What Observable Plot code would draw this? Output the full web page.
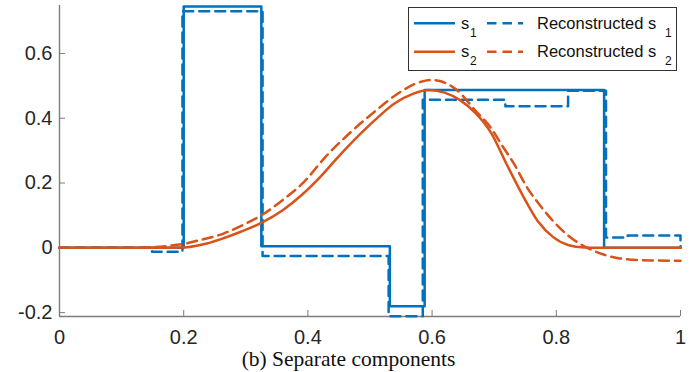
<!DOCTYPE html>
<html>
<head>
<meta charset="utf-8">
<script src="https://cdn.jsdelivr.net/npm/d3@7"></script>
<script src="https://cdn.jsdelivr.net/npm/@observablehq/plot@0.6"></script>
<style>
  html, body { margin: 0; padding: 0; background: #fff; overflow: hidden; }
  #wrap { position: relative; width: 693px; height: 372px; }
  #caption { position: absolute; left: 0; width: 693px; top: 349px; text-align: center;
    font-family: "Liberation Serif", "Times New Roman", serif; font-size: 21.5px; line-height: 1; color: #111; padding-left: 2px; }
  #legend { position: absolute; left: 408px; top: 7px; }
</style>
</head>
<body>
<div id="wrap"></div>
<script>
// ---- data ----
const xTicks = [0, 0.2, 0.4, 0.6, 0.8, 1];
const yTicks = [-0.2, 0, 0.2, 0.4, 0.6];
const xDomain = [0, 1];
const yDomain = [-0.212, 0.748];

// s1 (step, value held from each x until the next)
const s1X = [0, 0.2, 0.325, 0.532, 0.588, 0.877, 1];
const s1Y = [0, 0.745, 0.005, -0.18, 0.487, 0, 0];

// Reconstructed s1 (step)
const r1X = [0, 0.149, 0.198, 0.327, 0.530, 0.585, 0.718, 0.819, 0.880, 0.915, 1];
const r1Y = [0, -0.012, 0.73, -0.025, -0.211, 0.457, 0.437, 0.485, 0.032, 0.038, 0];

// s2 (smooth bump)
const s2X = [0, 0.15, 0.2, 0.23, 0.26, 0.29, 0.325, 0.36, 0.39, 0.42, 0.45, 0.48, 0.51, 0.54, 0.57, 0.595, 0.62, 0.645, 0.67, 0.695, 0.72, 0.745, 0.77, 0.795, 0.82, 0.845, 0.87, 1];
const s2Y = [0, 0, 0.001, 0.01, 0.027, 0.048, 0.077, 0.117, 0.163, 0.219, 0.283, 0.343, 0.398, 0.446, 0.476, 0.487, 0.479, 0.456, 0.416, 0.355, 0.258, 0.165, 0.083, 0.033, 0.008, 0.001, 0, 0];

// Reconstructed s2
const r2X = [0, 0.12, 0.15, 0.175, 0.2, 0.222, 0.264, 0.296, 0.329, 0.361, 0.393, 0.428, 0.469, 0.506, 0.544, 0.581, 0.6, 0.614, 0.64, 0.67, 0.694, 0.713, 0.732, 0.753, 0.775, 0.797, 0.823, 0.85, 0.875, 0.9, 0.936, 1];
const r2Y = [0, 0, 0.002, 0.006, 0.012, 0.022, 0.044, 0.071, 0.105, 0.15, 0.202, 0.28, 0.357, 0.418, 0.475, 0.512, 0.518, 0.514, 0.487, 0.423, 0.372, 0.315, 0.259, 0.186, 0.128, 0.078, 0.032, 0.0, -0.02, -0.032, -0.038, -0.04];

const seriesNames = ["s1", "Reconstructed s1", "s2", "Reconstructed s2"];
const blue = "#0072BD", orange = "#D95319";
const axisGray = "#7d7d7d";
const dash = "10,6";

const toRows = (xs, ys) => xs.map((x, i) => ({x, y: ys[i]}));

const chart = Plot.plot({
  width: 693,
  height: 345,
  marginLeft: 59,
  marginRight: 13,
  marginTop: 5,
  marginBottom: 29,
  x: {domain: xDomain, label: null},
  y: {domain: yDomain, label: null},
  style: {fontFamily: "'Liberation Sans', Arial, Helvetica, sans-serif", fontSize: "20px", background: "white", overflow: "visible"},
  marks: [
    Plot.ruleX([xDomain[0]], {stroke: axisGray, strokeWidth: 1.4}),
    Plot.ruleY([yDomain[0]], {stroke: axisGray, strokeWidth: 1.4}),
    Plot.axisX(xTicks, {label: null, tickSize: -6, tickPadding: 19, stroke: axisGray, fill: "#262626", tickFormat: d => String(d)}),
    Plot.axisY(yTicks, {label: null, tickSize: -6, tickPadding: 13, stroke: axisGray, fill: "#262626", tickFormat: d => String(d)}),
    Plot.line(toRows(s1X, s1Y), {x: "x", y: "y", curve: "step-after", stroke: blue, strokeWidth: 2.5}),
    Plot.line(toRows(r1X, r1Y), {x: "x", y: "y", curve: "step-after", stroke: blue, strokeWidth: 2.5, strokeDasharray: dash}),
    Plot.line(toRows(s2X, s2Y), {x: "x", y: "y", curve: "monotone-x", stroke: orange, strokeWidth: 2.5}),
    Plot.line(toRows(r2X, r2Y), {x: "x", y: "y", curve: "monotone-x", stroke: orange, strokeWidth: 2.5, strokeDasharray: dash})
  ]
});

const wrap = document.getElementById("wrap");
wrap.appendChild(chart);

// legend (two columns, MATLAB-like)
const ns = "http://www.w3.org/2000/svg";
const leg = document.createElementNS(ns, "svg");
leg.setAttribute("id", "legend");
leg.setAttribute("width", 271);
leg.setAttribute("height", 66);
leg.style.fontFamily = "'Liberation Sans', Arial, Helvetica, sans-serif";
const rect = document.createElementNS(ns, "rect");
rect.setAttribute("x", 0.5); rect.setAttribute("y", 0.5);
rect.setAttribute("width", 268); rect.setAttribute("height", 63);
rect.setAttribute("fill", "white"); rect.setAttribute("stroke", "#333"); rect.setAttribute("stroke-width", 1);
leg.appendChild(rect);
const items = [
  {name: seriesNames[0], color: blue, dashed: false, base: "s", sub: "1", col: 0, row: 0},
  {name: seriesNames[1], color: blue, dashed: true, base: "Reconstructed s", sub: "1", col: 1, row: 0},
  {name: seriesNames[2], color: orange, dashed: false, base: "s", sub: "2", col: 0, row: 1},
  {name: seriesNames[3], color: orange, dashed: true, base: "Reconstructed s", sub: "2", col: 1, row: 1}
];
const rowLineY = [16.3, 44.7], rowBase = [21.5, 50];
const colLine = [[6, 47], [79, 115]], colText = [53, 129], colSub = [62, 257];
for (const it of items) {
  const ln = document.createElementNS(ns, "line");
  ln.setAttribute("x1", colLine[it.col][0]); ln.setAttribute("x2", colLine[it.col][1]);
  ln.setAttribute("y1", rowLineY[it.row]); ln.setAttribute("y2", rowLineY[it.row]);
  ln.setAttribute("stroke", it.color); ln.setAttribute("stroke-width", 2.5);
  if (it.dashed) ln.setAttribute("stroke-dasharray", "9.5,6");
  leg.appendChild(ln);
  const t = document.createElementNS(ns, "text");
  t.setAttribute("x", colText[it.col]); t.setAttribute("y", rowBase[it.row]);
  t.setAttribute("font-size", "16.5px"); t.setAttribute("fill", "#111");
  t.textContent = it.base;
  leg.appendChild(t);
  const s = document.createElementNS(ns, "text");
  s.setAttribute("x", colSub[it.col]); s.setAttribute("y", rowBase[it.row] + 8);
  s.setAttribute("font-size", "12px"); s.setAttribute("fill", "#111");
  s.textContent = it.sub;
  leg.appendChild(s);
}
wrap.appendChild(leg);

const cap = document.createElement("div");
cap.id = "caption";
cap.textContent = "(b) Separate components";
wrap.appendChild(cap);
</script>
</body>
</html>
